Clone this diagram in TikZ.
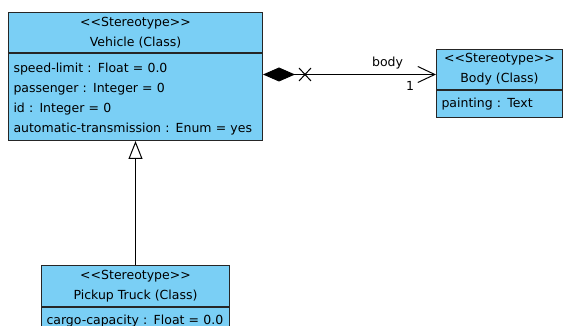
\documentclass[tikz,border=0pt]{standalone}
\usepackage{fontspec}
\newfontfamily\umlfont{DejaVu Sans}
\usetikzlibrary{arrows.meta,positioning,calc}
\definecolor{classblue}{RGB}{122,207,245}

\tikzset{
  classbox/.style={draw=black!85, fill=classblue, line width=1pt, inner sep=0pt,
    anchor=north west, font=\umlfont\fontsize{12.5}{20}\selectfont},
  classhead/.style={classbox, align=center},
  classattr/.style={classbox, align=left, inner xsep=5pt},
  linklabel/.style={font=\umlfont\fontsize{12.5}{15}\selectfont},
}

\begin{document}
\begin{tikzpicture}[x=1pt,y=-1pt,line width=1pt]
  \useasboundingbox (0,0) rectangle (566,326);
  \clip (0,0) rectangle (566,326);

  % classes
  \node[classhead, minimum width=254pt, minimum height=40pt] (vehicle) at (8,12)
    {<<Stereotype>>\\Vehicle (Class)};
  \node[classattr, text width=244pt, minimum height=87pt] (vehicle-attr) at (vehicle.south west)
    {\rule{0pt}{13pt}speed-limit : Float = 0.0\\passenger : Integer = 0\\id : Integer = 0\\automatic-transmission : Enum = yes};

  \node[classhead, minimum width=126pt, minimum height=40pt] (body) at (436,49)
    {<<Stereotype>>\\Body (Class)};
  \node[classattr, text width=116pt, minimum height=27pt] (body-attr) at (body.south west)
    {painting : Text};

  \node[classhead, minimum width=188pt, minimum height=41pt] (truck) at (41,265)
    {<<Stereotype>>\\Pickup Truck (Class)};
  \node[classattr, text width=178pt, minimum height=28pt] (truck-attr) at (truck.south west)
    {cargo-capacity : Float = 0.0};

  % composition
  \coordinate (link) at (0,74.5);
  \draw[{Diamond[length=32pt,width=14pt]}-{Straight Barb[length=17pt,width=16pt]}]
    (vehicle-attr.east |- link) -- node[pos=0.72, above=2pt, linklabel] (role) {body}
    node[pos=0.85, below=3pt, linklabel] (mult) {1}
    (body.west |- link);
  \coordinate (cross) at ($(vehicle-attr.east |- link)+(42,0)$);
  \draw (cross) +(-6,-6.5) -- +(6,6.5) (cross) +(-6,6.5) -- +(6,-6.5);

  % generalization
  \draw[-{Triangle[open,length=18pt,width=14pt]}] (truck.north) -- (truck.north |- vehicle-attr.south);
\end{tikzpicture}
\end{document}
